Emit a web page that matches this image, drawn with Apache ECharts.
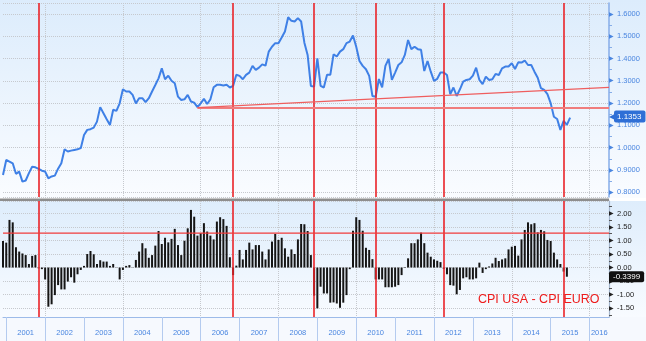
<!DOCTYPE html>
<html>
<head>
<meta charset="utf-8">
<script src="https://cdn.jsdelivr.net/npm/echarts@6/dist/echarts.min.js"></script>
<style>
  html, body { margin: 0; padding: 0; background: #ffffff; }
  #chart { width: 646px; height: 341px; }
</style>
</head>
<body>
<div id="chart"></div>
<script>
// Monthly axis runs from Dec 2000 to Jul 2016
const firstMonth = '2000-12';
const lastMonth = '2016-07';

// EUR/USD monthly closes, Dec 2000 .. Jul 2015
const fxValues = [
  0.878,
  0.945, 0.938, 0.930, 0.883, 0.893, 0.848, 0.853, 0.886, 0.915, 0.912, 0.905, 0.897,
  0.893, 0.863, 0.871, 0.875, 0.906, 0.930, 0.993, 0.983, 0.987, 0.990, 0.993, 0.998,
  1.057, 1.080, 1.083, 1.090, 1.117, 1.182, 1.155, 1.128, 1.102, 1.170, 1.165, 1.199,
  1.262, 1.252, 1.252, 1.237, 1.199, 1.222, 1.222, 1.204, 1.222, 1.252, 1.281, 1.311,
  1.356, 1.307, 1.323, 1.300, 1.289, 1.229, 1.214, 1.217, 1.237, 1.207, 1.202, 1.182,
  1.199, 1.219, 1.196, 1.217, 1.271, 1.282, 1.282, 1.279, 1.282, 1.270, 1.277, 1.327,
  1.322, 1.307, 1.327, 1.337, 1.367, 1.349, 1.359, 1.374, 1.368, 1.431, 1.453, 1.469,
  1.469, 1.494, 1.521, 1.585, 1.569, 1.566, 1.581, 1.566, 1.471, 1.416, 1.277, 1.274,
  1.401, 1.277, 1.270, 1.327, 1.327, 1.419, 1.409, 1.431, 1.442, 1.469, 1.476, 1.503,
  1.453, 1.389, 1.367, 1.352, 1.322, 1.232, 1.229, 1.308, 1.271, 1.367, 1.398, 1.304,
  1.337, 1.371, 1.383, 1.416, 1.483, 1.442, 1.453, 1.442, 1.439, 1.344, 1.389, 1.341,
  1.300, 1.309, 1.337, 1.337, 1.326, 1.240, 1.270, 1.232, 1.262, 1.296, 1.304, 1.307,
  1.323, 1.359, 1.304, 1.285, 1.319, 1.304, 1.307, 1.331, 1.326, 1.356, 1.364, 1.364,
  1.379, 1.353, 1.383, 1.382, 1.391, 1.371, 1.371, 1.341, 1.314, 1.267, 1.259, 1.240,
  1.200, 1.139, 1.129, 1.080, 1.120, 1.102, 1.1353
];

// CPI USA minus CPI Euro area (y/y, pct points), Dec 2000 .. Jun 2015
const cpiDiff = [
  0.98,
  0.92, 1.76, 1.67, 0.75, 0.59, 0.52, 0.46, 0.13, 0.43, 0.46, -0.03, -0.06,
  -0.44, -1.45, -1.36, -1.02, -0.65, -0.81, -0.81, -0.52, -0.36, -0.56, -0.25, -0.09,
  0.06, 0.50, 0.61, 0.49, 0.13, 0.27, 0.22, 0.22, 0.06, 0.13, 0.01, -0.44,
  -0.09, 0.06, 0.09, 0.01, 0.28, 0.59, 0.90, 0.71, 0.36, 0.46, 0.81, 1.35,
  0.87, 1.10, 0.93, 1.06, 1.43, 0.83, 0.46, 0.99, 1.45, 2.13, 1.88, 1.18,
  1.27, 1.64, 1.33, 1.18, 1.04, 1.70, 1.86, 1.79, 1.54, 0.38, -0.28, 0.07,
  0.65, 0.30, 0.65, 0.92, 0.67, 0.83, 0.83, 0.59, 0.30, 0.67, 0.96, 1.24,
  1.02, 1.10, 0.71, 0.40, 0.67, 0.50, 1.04, 1.61, 1.60, 1.35, 0.46, -1.04,
  -1.51, -0.71, -0.96, -0.96, -1.30, -1.29, -1.33, -1.49, -1.30, -1.02, -0.06, 1.36,
  1.86, 1.76, 1.36, 0.73, 0.65, 0.31, -0.44, -0.44, -0.44, -0.73, -0.73, -0.73,
  -0.71, -0.65, -0.28, 0.02, 0.34, 0.90, 0.90, 1.04, 1.29, 0.90, 0.55, 0.40,
  0.30, 0.25, 0.20, -0.05, -0.25, -0.65, -0.67, -0.99, -0.83, -0.40, -0.36, -0.44,
  -0.44, -0.40, 0.18, -0.20, -0.06, 0.04, 0.15, 0.36, 0.24, 0.30, 0.34, 0.67,
  0.77, 0.80, 0.44, 1.04, 1.39, 1.67, 1.60, 1.64, 1.30, 1.39, 1.34, 1.02,
  0.98, 0.55, 0.30, 0.13, -0.15, -0.3399
];

// Turning points marked across both panels
const eventMonths = ['2001-11', '2006-11', '2008-12', '2010-07', '2012-04', '2015-05'];

// Support level and rising trend line on EUR/USD
const supportStart = ['2005-12', 1.18];
const supportEnd = ['2016-07', 1.18];
const trendStart = ['2005-12', 1.18];
const trendEnd = ['2016-07', 1.271];

// Reference level on the CPI spread
const cpiRefLevel = 1.27;

// Where each year's label sits on the time axis
const yearLabelMonths = [
  '2001-07', '2002-07', '2003-07', '2004-07', '2005-07', '2006-07', '2007-07', '2008-07',
  '2009-07', '2010-07', '2011-07', '2012-07', '2013-07', '2014-07', '2015-07', '2016-04'
];

// Build the month categories
const months = [];
(function () {
  let y = +firstMonth.slice(0, 4), m = +firstMonth.slice(5, 7);
  for (;;) {
    const s = y + '-' + String(m).padStart(2, '0');
    months.push(s);
    if (s === lastMonth) break;
    m++;
    if (m > 12) { m = 1; y++; }
  }
})();

const isJanuary = (i, v) => v.slice(5, 7) === '01';
const isEvenYearStart = (i, v) => v.slice(5, 7) === '01' && (+v.slice(0, 4)) % 2 === 0;
const isYearLabel = (i, v) => yearLabelMonths.indexOf(v) >= 0;

const BLUE = '#3f80e6';
const AXIS_BLUE = '#4a86e0';
const RED = '#ea2328';
const FONT = 'Liberation Sans, Arial, sans-serif';
const CLEAR = 'rgba(0,0,0,0)';

const lastFx = fxValues[fxValues.length - 1];
const lastCpi = cpiDiff[cpiDiff.length - 1];

const eventLines = () => eventMonths.map(m => ({
  xAxis: m,
  lineStyle: { color: RED, width: 1.6, type: 'solid' },
  label: { show: false }
}));

const grad = (a, b) => new echarts.graphic.LinearGradient(0, 0, 0, 1, [
  { offset: 0, color: a }, { offset: 1, color: b }
]);

const chart = echarts.init(document.getElementById('chart'), null, { renderer: 'canvas' });

chart.setOption({
  animation: false,
  backgroundColor: '#ffffff',
  textStyle: { fontFamily: FONT },
  graphic: [
    { type: 'rect', z: -100, silent: true, shape: { x: 0, y: 0, width: 646, height: 198 },
      style: { fill: grad('#dcecfc', '#fafcff') } },
    { type: 'rect', z: -100, silent: true, shape: { x: 0, y: 201, width: 646, height: 116 },
      style: { fill: grad('#deedfc', '#f8fbff') } },
    { type: 'rect', z: -100, silent: true, shape: { x: 0, y: 317, width: 646, height: 24 },
      style: { fill: '#f6f9fe' } },
    { type: 'rect', z: 50, silent: true, shape: { x: 0, y: 198.5, width: 609, height: 2.5 },
      style: { fill: '#8d8d8d' } }
  ],
  title: {
    text: 'CPI USA - CPI EURO',
    left: 478, top: 293,
    padding: 0,
    textStyle: { color: '#ee1b1b', fontSize: 12.5, fontWeight: 'normal', fontFamily: FONT }
  },
  grid: [
    { left: 3, top: 3, width: 606, height: 194 },
    { left: 3, top: 201, width: 606, height: 116 }
  ],
  xAxis: [
    {
      type: 'category', gridIndex: 0, data: months, boundaryGap: false,
      axisLine: { show: false, onZero: false }, axisTick: { show: false }, axisLabel: { show: false },
      splitLine: { show: true, interval: isEvenYearStart, lineStyle: { color: '#c6c9ce', type: 'dotted', width: 1 } }
    },
    {
      type: 'category', gridIndex: 1, data: months, boundaryGap: false,
      axisLine: { show: true, onZero: false, lineStyle: { color: '#9dbbe9', width: 1 } },
      axisTick: { show: true, interval: isJanuary, length: 24, lineStyle: { color: '#b4cbef' } },
      axisLabel: {
        interval: isYearLabel, formatter: v => v.slice(0, 4),
        color: AXIS_BLUE, fontSize: 7.5, margin: 12, fontFamily: FONT
      },
      splitLine: { show: true, interval: isEvenYearStart, lineStyle: { color: '#c6c9ce', type: 'dotted', width: 1 } }
    }
  ],
  yAxis: [
    {
      type: 'value', gridIndex: 0, position: 'right', min: 0.779, max: 1.649, splitNumber: 9,
      axisLine: { show: true, lineStyle: { color: '#86ade8', width: 1.5 } },
      axisTick: { show: false },
      minorTick: { show: true, splitNumber: 2, length: 3, lineStyle: { color: '#86ade8' } },
      axisLabel: {
        showMinLabel: false, showMaxLabel: false, margin: 0,
        formatter: v => '{t|▶}' + v.toFixed(4),
        color: AXIS_BLUE, fontSize: 7.5, fontFamily: FONT,
        rich: { t: { fontSize: 6, color: AXIS_BLUE, padding: [0, 3, 0, 0] } }
      },
      splitLine: { show: true, lineStyle: { color: '#c6c9ce', type: 'dotted', width: 1 } }
    },
    {
      type: 'value', gridIndex: 1, position: 'right', min: -1.83, max: 2.46, splitNumber: 8,
      axisLine: { show: true, lineStyle: { color: '#a3b5cc', width: 1.2 } },
      axisTick: { show: false },
      minorTick: { show: true, splitNumber: 2, length: 3, lineStyle: { color: '#555' } },
      axisLabel: {
        showMinLabel: false, showMaxLabel: false, margin: 0,
        formatter: v => '{t|▶}' + v.toFixed(2),
        color: '#222', fontSize: 7.5, fontFamily: FONT,
        rich: { t: { fontSize: 6, color: '#222', padding: [0, 3, 0, 0] } }
      },
      splitLine: { show: true, lineStyle: { color: '#c6c9ce', type: 'dotted', width: 1 } }
    }
  ],
  series: [
    {
      name: 'EUR/USD', type: 'line', xAxisIndex: 0, yAxisIndex: 0,
      data: fxValues, showSymbol: false, symbol: 'none',
      lineStyle: { color: BLUE, width: 2 },
      z: 4,
      markLine: {
        silent: true, symbol: ['none', 'none'], animation: false,
        label: { show: false },
        data: eventLines().concat([
          [{ coord: supportStart }, { coord: supportEnd,
            lineStyle: { color: '#f07d7d', width: 2.2, type: 'solid' } }],
          [{ coord: trendStart }, { coord: trendEnd,
            lineStyle: { color: '#ef5e5e', width: 1.2, type: 'solid' } }]
        ])
      }
    },
    {
      // last-value tag on the EUR/USD axis
      name: 'fx-tag', type: 'line', xAxisIndex: 0, yAxisIndex: 0,
      data: [], silent: true, z: 10,
      markLine: {
        silent: true, symbol: ['none', 'none'], animation: false,
        lineStyle: { color: CLEAR, width: 1, type: 'solid' },
        data: [{
          yAxis: lastFx,
          label: {
            show: true, position: 'end', distance: 0, opacity: 1,
            formatter: () => '{a|◀}{b|' + lastFx.toFixed(4) + '}',
            rich: {
              a: { color: '#2f6fd6', fontSize: 8, padding: [0, -1, 0, 0] },
              b: { backgroundColor: '#2f6fd6', color: '#ffffff', fontSize: 8, fontFamily: FONT,
                   padding: [2, 4, 2, 3], borderRadius: 2 }
            }
          }
        }]
      }
    },
    {
      name: 'CPI USA - CPI EURO', type: 'bar', xAxisIndex: 1, yAxisIndex: 1,
      data: cpiDiff, barWidth: 2,
      itemStyle: { color: '#151515' },
      z: 3,
      markLine: {
        silent: true, symbol: ['none', 'none'], animation: false,
        label: { show: false },
        data: eventLines()
      }
    },
    {
      // reference level across the CPI spread panel
      name: 'cpi-ref', type: 'line', xAxisIndex: 1, yAxisIndex: 1,
      data: [[firstMonth, cpiRefLevel], [lastMonth, cpiRefLevel]],
      showSymbol: false, symbol: 'none', silent: true, z: 5,
      itemStyle: { color: '#f03a3a' },
      lineStyle: { color: '#f03a3a', width: 1.2, type: 'solid' }
    },
    {
      // last-value tag on the CPI spread axis
      name: 'cpi-tag', type: 'line', xAxisIndex: 1, yAxisIndex: 1,
      data: [], silent: true, z: 10,
      markLine: {
        silent: true, symbol: ['none', 'none'], animation: false,
        lineStyle: { color: CLEAR, width: 1, type: 'solid' },
        data: [{
          yAxis: lastCpi,
          label: {
            show: true, position: 'end', distance: 0, opacity: 1,
            formatter: () => '{b|' + lastCpi.toFixed(4) + '}',
            rich: {
              b: { backgroundColor: '#111111', color: '#ffffff', fontSize: 8, fontFamily: FONT,
                   padding: [2, 4, 1, 4], borderRadius: 2 }
            }
          }
        }]
      }
    }
  ]
});
</script>
</body>
</html>
